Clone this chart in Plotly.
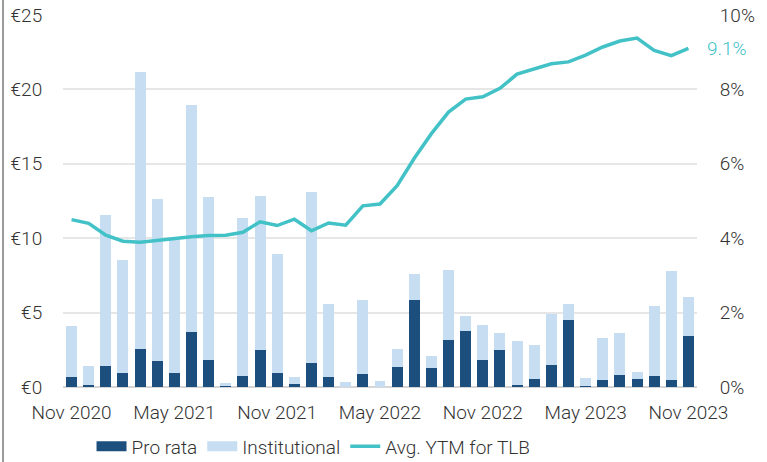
import pandas as pd
import plotly.graph_objects as go

months = list(pd.date_range("2020-11-01", periods=37, freq="MS").strftime("%b %Y"))

pro_rata = [0.67, 0.11, 1.44, 0.94, 2.56, 1.73, 0.97, 3.68, 1.82, 0.07, 0.76, 2.47,
            0.94, 0.18, 1.64, 0.65, 0.0, 0.88, 0.0, 1.32, 5.84, 1.28, 3.16, 3.76,
            1.79, 2.49, 0.11, 0.54, 1.50, 4.50, 0.04, 0.47, 0.83, 0.56, 0.74, 0.47, 3.41]
total = [4.09, 1.39, 11.56, 8.53, 21.14, 12.64, 9.88, 18.95, 12.79, 0.29, 11.33, 12.84,
         8.96, 0.67, 13.13, 5.57, 0.36, 5.86, 0.38, 2.54, 7.57, 2.06, 7.89, 4.77,
         4.19, 3.61, 3.07, 2.80, 4.93, 5.58, 0.63, 3.29, 3.61, 0.99, 5.42, 7.80, 6.05]
institutional = [round(t - p, 2) for t, p in zip(total, pro_rata)]
ytm = [4.50, 4.40, 4.08, 3.92, 3.89, 3.94, 4.01, 4.04, 4.07, 4.08, 4.16, 4.44,
       4.34, 4.51, 4.20, 4.41, 4.35, 4.87, 4.92, 5.41, 6.15, 6.81, 7.39, 7.74,
       7.80, 8.03, 8.41, 8.55, 8.69, 8.74, 8.92, 9.14, 9.30, 9.38, 9.05, 8.91, 9.10]

tick_months = months[::6]
left_ticks = [0, 5, 10, 15, 20, 25]
left_text = ["€0", "€5", "€10", "€15", "€20", "€25"]
right_ticks = [0, 2, 4, 6, 8, 10]
right_text = ["0%", "2%", "4%", "6%", "8%", "10%"]

DARK = "#1d4f7e"
LIGHT = "#c6ddf2"
TEAL = "#42c2c7"
FONT = "Roboto, sans-serif"
TXT = "#333333"
FS = 19

fig = go.Figure()
fig.add_trace(go.Bar(x=months, y=pro_rata, name="Pro rata", marker=dict(color=DARK, line=dict(width=0)),
                     showlegend=False))
fig.add_trace(go.Bar(x=months, y=institutional, name="Institutional", marker=dict(color=LIGHT, line=dict(width=0)),
                     showlegend=False))
fig.add_trace(go.Scatter(x=months, y=ytm, name="Avg. YTM for TLB", mode="lines",
                         line=dict(color=TEAL, width=3.5), yaxis="y2", showlegend=False))

# legend entries
fig.add_trace(go.Scatter(x=[None], y=[None], mode="lines", name="Pro rata",
                         line=dict(color=DARK, width=11)))
fig.add_trace(go.Scatter(x=[None], y=[None], mode="lines", name="Institutional",
                         line=dict(color=LIGHT, width=11)))
fig.add_trace(go.Scatter(x=[None], y=[None], mode="lines", name="Avg. YTM for TLB",
                         line=dict(color=TEAL, width=3.5)))

fig.add_annotation(x=1.082, xref="paper", xanchor="right", y=ytm[-1], yref="y2",
                   text=f"{ytm[-1]:.1f}%", showarrow=False,
                   font=dict(family=FONT, size=FS, color=TEAL, weight=300))

fig.add_shape(type="line", xref="paper", yref="paper", x0=-0.0946, x1=-0.0946, y0=-0.21, y1=1.05,
              line=dict(color="#9a9a9a", width=2))

fig.update_layout(
    width=767, height=462,
    margin=dict(l=63, r=70, t=15, b=75, autoexpand=False),
    barmode="stack", bargap=0.36,
    plot_bgcolor="white", paper_bgcolor="white",
    font=dict(family=FONT, size=FS, color=TXT, weight=300),
    xaxis=dict(type="category", tickmode="array", tickvals=tick_months, ticktext=tick_months,
               showgrid=False, showline=False, ticks="outside", ticklen=8, tickcolor="rgba(0,0,0,0)",
               range=[-0.5, len(months) - 0.5]),
    yaxis=dict(range=[0, 25], tickvals=left_ticks, ticktext=left_text, showgrid=True,
               gridcolor="#e6e6e6", gridwidth=1.5, zeroline=True, zerolinecolor="#d6d6d6",
               zerolinewidth=1.5, ticks="outside", ticklen=16, tickcolor="rgba(0,0,0,0)"),
    yaxis2=dict(range=[0, 10], tickvals=right_ticks, ticktext=right_text, overlaying="y",
                side="right", showgrid=False, zeroline=False, ticks="outside", ticklen=18,
                tickcolor="rgba(0,0,0,0)"),
    legend=dict(orientation="h", x=0.045, xanchor="left", y=-0.16, yanchor="middle",
                itemwidth=30, traceorder="normal", tracegroupgap=0),
)

fig.write_html("out.html", config={"displayModeBar": False},
               post_script="document.body.style.margin='0';document.body.style.overflow='hidden';")
